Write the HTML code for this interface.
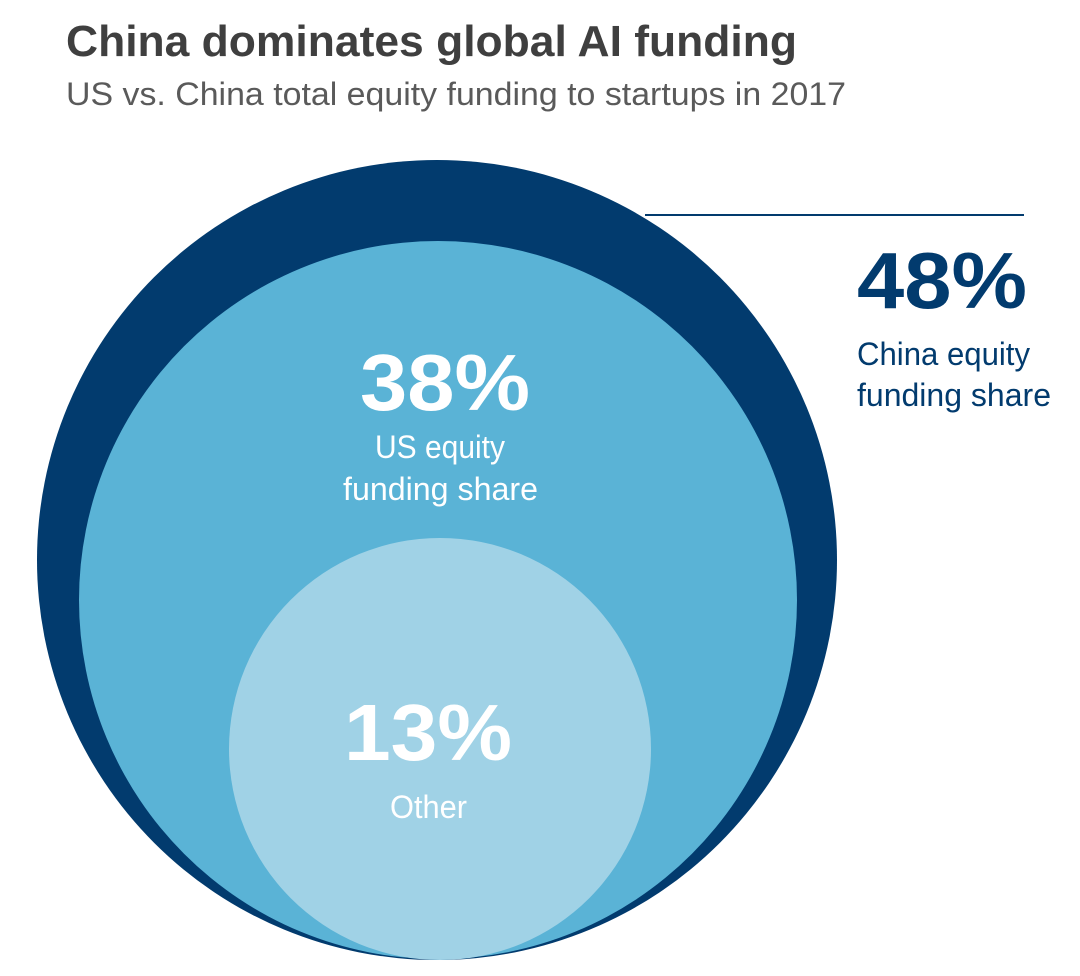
<!DOCTYPE html>
<html><head><meta charset="utf-8"><style>html,body{margin:0;padding:0;background:#fff}svg{display:block}</style></head>
<body>
<svg width="1080" height="976" viewBox="0 0 1080 976" xmlns="http://www.w3.org/2000/svg" font-family="'Liberation Sans', sans-serif">
<rect width="1080" height="976" fill="#fff"/>
<text x="66" y="56" font-size="44" font-weight="bold" fill="#3f3f3f" textLength="731" lengthAdjust="spacingAndGlyphs">China dominates global AI funding</text>
<text x="66" y="105" font-size="32" fill="#5a5a5a" textLength="780" lengthAdjust="spacingAndGlyphs">US vs. China total equity funding to startups in 2017</text>
<circle cx="437" cy="560" r="400" fill="#023b6e"/>
<circle cx="438" cy="600" r="359" fill="#5ab3d6"/>
<circle cx="440" cy="749" r="211" fill="#a0d2e6"/>
<line x1="645" y1="215" x2="1024" y2="215" stroke="#023b6e" stroke-width="2"/>
<text x="857" y="308" font-size="80" font-weight="bold" fill="#023b6e" textLength="170" lengthAdjust="spacingAndGlyphs">48%</text>
<text x="857" y="365" font-size="32" fill="#023b6e" textLength="173" lengthAdjust="spacingAndGlyphs">China equity</text>
<text x="857" y="406" font-size="32" fill="#023b6e" textLength="194" lengthAdjust="spacingAndGlyphs">funding share</text>
<text x="360" y="410" font-size="80" font-weight="bold" fill="#fff" textLength="170" lengthAdjust="spacingAndGlyphs">38%</text>
<text x="375" y="458" font-size="32" fill="#fff" textLength="130" lengthAdjust="spacingAndGlyphs">US equity</text>
<text x="343" y="500" font-size="32" fill="#fff" textLength="195" lengthAdjust="spacingAndGlyphs">funding share</text>
<text x="344" y="760" font-size="80" font-weight="bold" fill="#fff" textLength="168" lengthAdjust="spacingAndGlyphs">13%</text>
<text x="390" y="818" font-size="32" fill="#fff" textLength="77" lengthAdjust="spacingAndGlyphs">Other</text>
</svg>
</body></html>
